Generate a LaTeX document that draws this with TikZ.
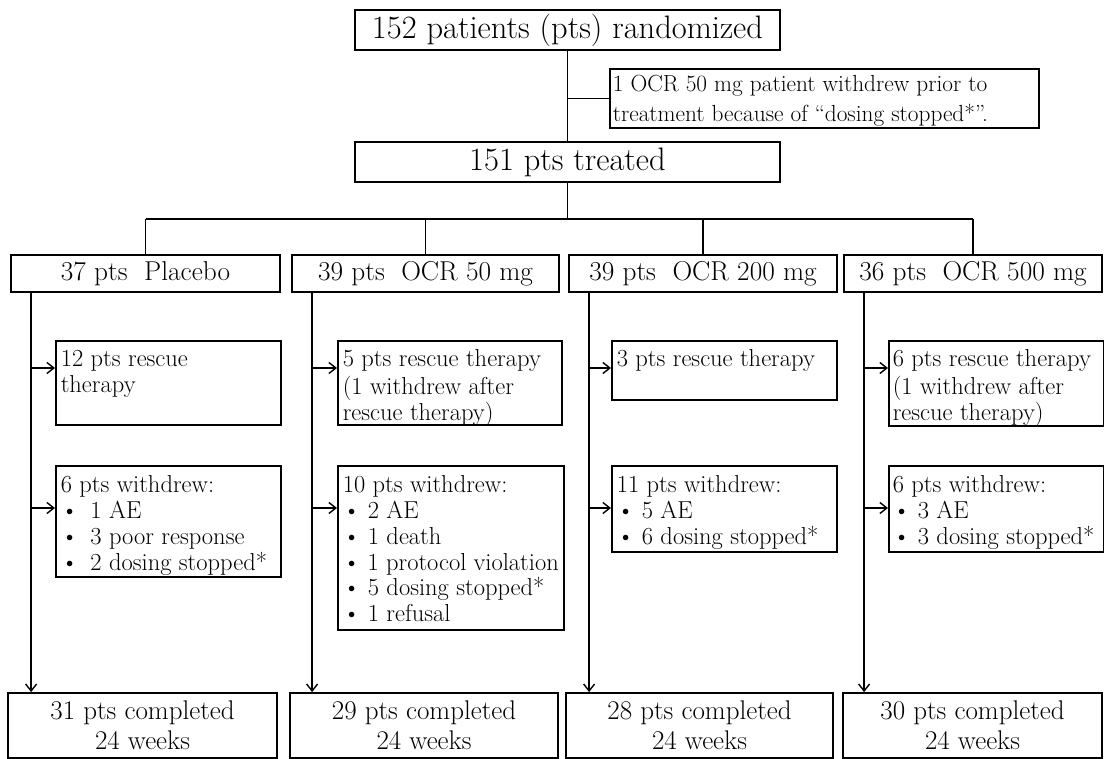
\documentclass[tikz,border=0pt]{standalone}
\usetikzlibrary{arrows.meta}
\newcommand{\boxtxt}[4]{\parbox[t][#1][t]{#2}{\raggedright\vspace*{#3}\strut #4}}
\tikzset{
  topbox/.style={draw, line width=1.8pt, inner sep=0pt, minimum width=425pt, minimum height=40pt, font=\fontsize{32.5}{36}\selectfont},
  armbox/.style={draw, line width=1.8pt, inner sep=0pt, minimum height=37pt, font=\fontsize{27.3}{30}\selectfont},
  notebox/.style={draw, line width=1.6pt, anchor=north west, inner xsep=5pt, inner ysep=0pt, font=\fontsize{24.5}{26}\selectfont},
  endbox/.style={draw, line width=1.8pt, inner sep=0pt, align=center, minimum height=65pt, font=\fontsize{27}{30}\selectfont},
  flow/.style={line width=1.4pt},
}

\begin{document}
\begin{tikzpicture}[x=1pt,y=-1pt,>={Straight Barb[length=7pt,width=11pt]}]
\useasboundingbox (0,0) rectangle (1104,759);
\node[topbox] (rand) at (567.5,30) {152 patients (pts) randomized};
\node[notebox, font=\fontsize{23.3}{30}\selectfont, inner xsep=3pt] (excl) at (609,68) {\boxtxt{59pt}{423pt}{2pt}{1 OCR 50 mg patient withdrew prior to\\treatment because of ``dosing stopped*''.}};
\node[topbox] (treated) at (567.5,162) {151 pts treated};
\coordinate (split) at (567.5,219);

% arms
\node[armbox, minimum width=269pt] (placebo) at (145.5,273.5) {37 pts\ \ Placebo};
\node[armbox, minimum width=267pt] (ocr50) at (425.5,273.5) {39 pts\ \ OCR 50 mg};
\node[armbox, minimum width=268pt] (ocr200) at (703,273.5) {39 pts\ \ OCR 200 mg};
\node[armbox, minimum width=258pt] (ocr500) at (973,273.5) {36 pts\ \ OCR 500 mg};

% rescue therapy
\node[notebox] (resc-placebo) at (55,340) {\boxtxt{84pt}{215pt}{8pt}{12 pts rescue\\therapy}};
\node[notebox] (resc-ocr50) at (337,340) {\boxtxt{84pt}{214pt}{8pt}{5 pts rescue therapy\\(1 withdrew after\\rescue therapy)}};
\node[notebox] (resc-ocr200) at (611,340) {\boxtxt{59pt}{215pt}{8pt}{3 pts rescue therapy}};
\node[notebox, inner xsep=4pt] (resc-ocr500) at (888,340) {\boxtxt{85pt}{207pt}{8pt}{6 pts rescue therapy\\(1 withdrew after\\rescue therapy)}};

% withdrawals
\node[notebox] (wd-placebo) at (55,465) {\boxtxt{111pt}{215pt}{8pt}{6 pts withdrew:\\\textbullet\hspace{12pt}1 AE\\\textbullet\hspace{12pt}3 poor response\\\textbullet\hspace{12pt}2 dosing stopped*}};
\node[notebox] (wd-ocr50) at (337,465) {\boxtxt{164pt}{216pt}{8pt}{10 pts withdrew:\\\textbullet\ 2 AE\\\textbullet\ 1 death\\\textbullet\ 1 protocol violation\\\textbullet\ 5 dosing stopped*\\\textbullet\ 1 refusal}};
\node[notebox] (wd-ocr200) at (611,465) {\boxtxt{86pt}{215pt}{8pt}{11 pts withdrew:\\\textbullet\ 5 AE\\\textbullet\ 6 dosing stopped*}};
\node[notebox, inner xsep=4pt] (wd-ocr500) at (888,465) {\boxtxt{86pt}{207pt}{8pt}{6 pts withdrew:\\\textbullet\ 3 AE\\\textbullet\ 3 dosing stopped*}};

% completed
\node[endbox, minimum width=269pt] (done-placebo) at (142.5,725.5) {31 pts completed\\24 weeks};
\node[endbox, minimum width=268pt] (done-ocr50) at (424,725.5) {29 pts completed\\24 weeks};
\node[endbox, minimum width=267pt] (done-ocr200) at (699.5,725.5) {28 pts completed\\24 weeks};
\node[endbox, minimum width=259pt] (done-ocr500) at (972.5,725.5) {30 pts completed\\24 weeks};

\draw[flow] (rand) -- (treated);
\draw[flow] (rand.south |- excl.west) -- (excl.west);
\draw[flow] (treated) -- (split);
\draw[flow] (placebo.north |- split) -- (ocr500.north |- split);
\foreach \arm in {placebo,ocr50,ocr200,ocr500} {
  \draw[flow] (\arm.north |- split) -- (\arm.north);
  \coordinate (drop-\arm) at ([xshift=21pt]\arm.south west);
  \coordinate (in-resc-\arm) at ([yshift=-28pt]resc-\arm.north west);
  \coordinate (in-wd-\arm) at ([yshift=-43pt]wd-\arm.north west);
  \draw[flow,->] (drop-\arm) -- (drop-\arm |- done-\arm.north);
  \draw[flow,->] (drop-\arm |- in-resc-\arm) -- (in-resc-\arm);
  \draw[flow,->] (drop-\arm |- in-wd-\arm) -- (in-wd-\arm);
}
\end{tikzpicture}
\end{document}
